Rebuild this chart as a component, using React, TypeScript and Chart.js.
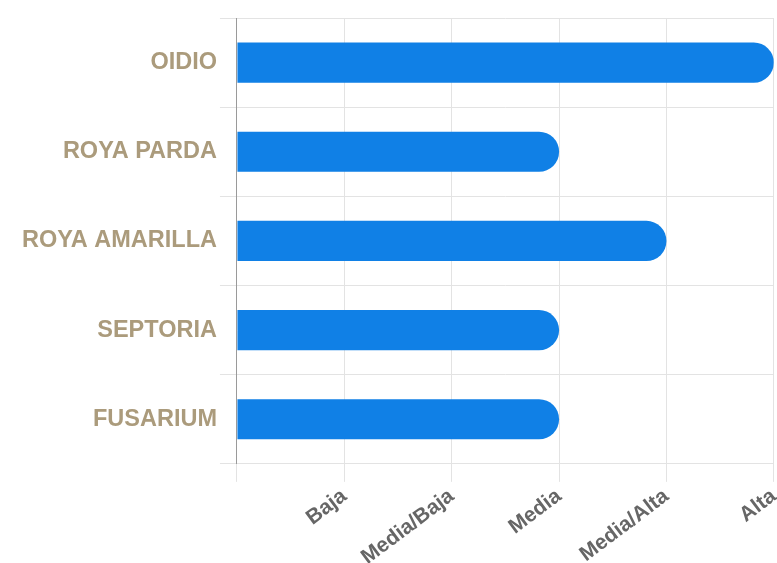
import React, { useEffect, useRef } from "react";
import { Chart, registerables } from "chart.js";

Chart.register(...registerables);

const categories = ["OIDIO", "ROYA PARDA", "ROYA AMARILLA", "SEPTORIA", "FUSARIUM"];
const values = [5, 3, 4, 3, 3];
const levelLabels = ["", "Baja", "Media/Baja", "Media", "Media/Alta", "Alta"];

export default function App() {
  const ref = useRef<HTMLCanvasElement | null>(null);
  useEffect(() => {
    if (!ref.current) return;
    const chart = new Chart(ref.current, {
      type: "bar",
      data: {
        labels: categories,
        datasets: [
          {
            data: values,
            backgroundColor: "#1080e6",
            borderRadius: 20,
            borderSkipped: "start",
            barPercentage: 0.5,
            categoryPercentage: 0.9,
          },
        ],
      },
      options: {
        indexAxis: "y",
        animation: false,
        responsive: true,
        maintainAspectRatio: false,
        layout: { padding: { top: 18, right: 0, left: 19, bottom: 0 } },
        plugins: { legend: { display: false }, tooltip: { enabled: false } },
        scales: {
          x: {
            min: 0,
            max: 5,
            ticks: {
              stepSize: 1,
              minRotation: 37,
              maxRotation: 37,
              color: "#666",
              padding: 2,
              font: { family: "'Liberation Sans', Arial, sans-serif", size: 21, weight: "bold" },
              callback: (v: any) => levelLabels[Number(v)] ?? "",
            },
            grid: { color: "#e3e3e3", tickLength: 18 },
            border: { color: "#e3e3e3" },
          },
          y: {
            ticks: {
              color: "#ab9b7c",
              padding: 3,
              font: { family: "'Liberation Sans', Arial, sans-serif", size: 23.5, weight: "bold" },
            },
            grid: { color: "#e3e3e3", tickLength: 17 },
            border: { color: "#9a9a9a" },
          },
        },
      },
    });
    return () => chart.destroy();
  }, []);
  return (
    <div style={{ position: "absolute", left: 0, top: 0, width: 777, height: 563, overflow: "hidden" }}>
      <div style={{ position: "relative", width: 791, height: 572 }}>
        <canvas ref={ref} />
      </div>
    </div>
  );
}
